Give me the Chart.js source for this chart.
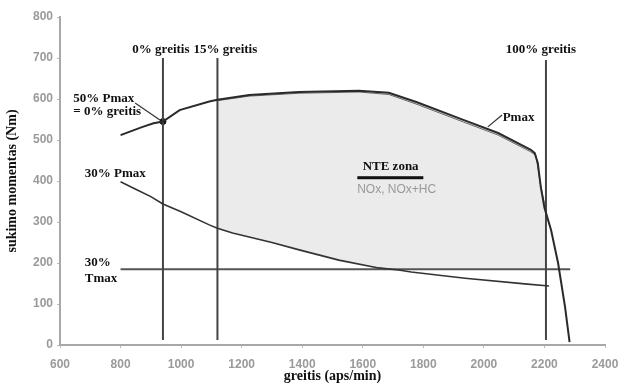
<!DOCTYPE html>
<html>
<head>
<meta charset="utf-8">
<script src="https://cdn.jsdelivr.net/npm/chart.js@4/dist/chart.umd.min.js"></script>
<style>
html,body{margin:0;padding:0;background:#fff;}
#wrap{width:618px;height:385px;}
</style>
</head>
<body>
<div id="wrap"><canvas id="c" width="618" height="385"></canvas></div>
<script>
// ---- data ----
const pmaxRpm = [800, 873, 909, 940, 995, 1093, 1120, 1225, 1389, 1587, 1686, 1779, 1932, 2047, 2155, 2168, 2178, 2188, 2200, 2222, 2245, 2268, 2283];
const pmaxNm  = [512, 532, 541, 545, 573, 594, 598, 610, 617, 620, 615, 592, 549, 517, 476, 468, 444, 385, 335, 280, 200, 93, 7];
const pmax2Rpm = [1120, 1225, 1389, 1587, 1686, 1779, 1932, 2047, 2155, 2172, 2185, 2200];
const pmax2Nm  = [596, 607, 614, 617, 611, 587, 544, 512, 471, 462, 400, 345];
const p30Rpm = [800, 850, 900, 940, 1000, 1093, 1120, 1170, 1300, 1390, 1521, 1652, 1718, 1760, 1938, 2135, 2215];
const p30Nm  = [398, 380, 362, 344, 325, 293, 285, 273, 250, 232, 207, 188, 183, 178, 163, 149, 144];
const speedRpm    = [940, 1120, 2205];   // 0%, 15%, 100% greitis
const speedTopNm  = [700, 700, 695];
const speedBotNm  = [12, 12, 12];
const speedLabels = ['0% greitis', '15% greitis', '100% greitis'];
const tmaxNm = 185;
const tmaxRpm = [800, 2285];
const nteRpmRange = [1120, 2205];
const xTicks = [600, 800, 1000, 1200, 1400, 1600, 1800, 2000, 2200, 2400];
const yTicks = [0, 100, 200, 300, 400, 500, 600, 700, 800];
const markerPoint = {x: 940, y: 545};

// ---- build series ----
const pts = (xs, ys) => xs.map((x, i) => ({x, y: ys[i]}));
const pmaxPts = pts(pmaxRpm, pmaxNm);
const p30Pts = pts(p30Rpm, p30Nm);

function crossX() { // where 30% Pmax curve reaches Tmax line
  for (let i = 1; i < p30Rpm.length; i++) {
    if (p30Nm[i] <= tmaxNm && p30Nm[i-1] > tmaxNm) {
      const t = (p30Nm[i-1] - tmaxNm) / (p30Nm[i-1] - p30Nm[i]);
      return p30Rpm[i-1] + t * (p30Rpm[i] - p30Rpm[i-1]);
    }
  }
  return p30Rpm[p30Rpm.length-1];
}
const cx = crossX();
const ntePoly = [];
pmaxPts.forEach(p => { if (p.x >= nteRpmRange[0] && p.x <= nteRpmRange[1]) ntePoly.push(p); });
ntePoly.push({x: nteRpmRange[1], y: tmaxNm});
ntePoly.push({x: cx, y: tmaxNm});
p30Pts.slice().reverse().forEach(p => { if (p.x >= nteRpmRange[0] && p.x < cx) ntePoly.push(p); });
ntePoly.push(ntePoly[0]);

const datasets = [];
datasets.push({label: 'Pmax', data: pmaxPts, borderColor: '#2a2a2a', borderWidth: 2});
datasets.push({label: 'Pmax2', data: pts(pmax2Rpm, pmax2Nm), borderColor: '#666', borderWidth: 1});
datasets.push({label: '30% Pmax', data: p30Pts, borderColor: '#333', borderWidth: 1.6});
speedRpm.forEach((r, i) => datasets.push({label: speedLabels[i], data: [{x: r, y: speedBotNm[i]}, {x: r, y: speedTopNm[i]}], borderColor: '#444', borderWidth: 2}));
datasets.push({label: '30% Tmax', data: tmaxRpm.map(x => ({x, y: tmaxNm})), borderColor: '#555', borderWidth: 2});
datasets.push({label: 'lead50', data: [{x: 848, y: 590}, {x: 930, y: 549}], borderColor: '#333', borderWidth: 1.2});
datasets.push({label: 'leadPmax', data: [{x: 2013, y: 532}, {x: 2060, y: 561}], borderColor: '#333', borderWidth: 1.2});
datasets.push({label: 'dot', data: [markerPoint], showLine: false, pointRadius: 3, pointBackgroundColor: '#111', pointBorderColor: '#111'});
datasets.push({label: 'NTE', data: ntePoly, borderWidth: 0, borderColor: 'rgba(0,0,0,0)', backgroundColor: '#ebebeb', fill: 'shape', order: 10});

const serif = "'Liberation Serif', 'Times New Roman', serif";
const sans = "'Liberation Sans', Arial, sans-serif";
const labelOffsets = [-2, 8, -5];

const labelsPlugin = {
  id: 'labels',
  afterDatasetsDraw(chart) {
    const {ctx, scales: {x, y}} = chart;
    ctx.save();
    ctx.fillStyle = '#111';
    ctx.textBaseline = 'middle';
    ctx.font = 'bold 13px ' + serif;
    ctx.textAlign = 'center';
    speedRpm.forEach((r, i) => ctx.fillText(speedLabels[i], x.getPixelForValue(r) + labelOffsets[i], y.getPixelForValue(721)));
    ctx.textAlign = 'left';
    ctx.fillText('50% Pmax', x.getPixelForValue(644), y.getPixelForValue(602));
    ctx.fillText('= 0% greitis', x.getPixelForValue(644), y.getPixelForValue(568));
    ctx.fillText('30% Pmax', x.getPixelForValue(682), y.getPixelForValue(419));
    ctx.fillText('30%', x.getPixelForValue(682), y.getPixelForValue(202));
    ctx.fillText('Tmax', x.getPixelForValue(682), y.getPixelForValue(163));
    ctx.fillText('Pmax', x.getPixelForValue(2062), y.getPixelForValue(554));
    ctx.textAlign = 'center';
    const nx = x.getPixelForValue(1692);
    ctx.fillText('NTE zona', nx, y.getPixelForValue(434));
    ctx.fillStyle = '#111';
    ctx.fillRect(x.getPixelForValue(1582), y.getPixelForValue(408) - 1.5, x.getPixelForValue(1800) - x.getPixelForValue(1582), 3);
    ctx.fillStyle = '#999';
    ctx.font = '12px ' + sans;
    ctx.fillText('NOx, NOx+HC', x.getPixelForValue(1712), y.getPixelForValue(378));
    ctx.restore();
  }
};

new Chart(document.getElementById('c'), {
  type: 'line',
  data: {datasets},
  options: {
    responsive: false,
    animation: false,
    events: [],
    layout: {padding: {top: 17, right: 13, left: 0, bottom: 0}},
    elements: {point: {radius: 0}, line: {tension: 0, fill: false}},
    plugins: {legend: {display: false}, tooltip: {enabled: false}},
    scales: {
      x: {
        type: 'linear', min: 600, max: 2400,
        afterBuildTicks: s => { s.ticks = xTicks.map(v => ({value: v})); },
        afterFit: s => { s.height = 40; s.paddingLeft = 0; s.paddingRight = 0; },
        border: {color: '#a8a8a8', width: 2},
        grid: {drawOnChartArea: false, tickLength: 3, color: '#bbb'},
        ticks: {color: '#9a9a9a', font: {family: sans, size: 12, weight: 'bold'}, padding: 9, maxRotation: 0, callback: v => String(v)},
        title: {display: true, text: 'greitis (aps/min)', color: '#111', font: {family: serif, size: 14, weight: 'bold'}, padding: {top: 0, bottom: 0}}
      },
      y: {
        type: 'linear', min: 0, max: 800,
        afterBuildTicks: s => { s.ticks = yTicks.map(v => ({value: v})); },
        afterFit: s => { s.width = 60; s.paddingTop = 0; s.paddingBottom = 0; },
        border: {color: '#a8a8a8', width: 2},
        grid: {drawOnChartArea: false, tickLength: 3, color: '#bbb'},
        ticks: {color: '#9a9a9a', font: {family: sans, size: 12, weight: 'bold'}, padding: 4, callback: v => String(v)},
        title: {display: true, text: 'sukimo momentas (Nm)', color: '#111', font: {family: serif, size: 14, weight: 'bold'}, padding: {top: 4, bottom: 0}}
      }
    }
  },
  plugins: [labelsPlugin]
});
</script>
</body>
</html>
